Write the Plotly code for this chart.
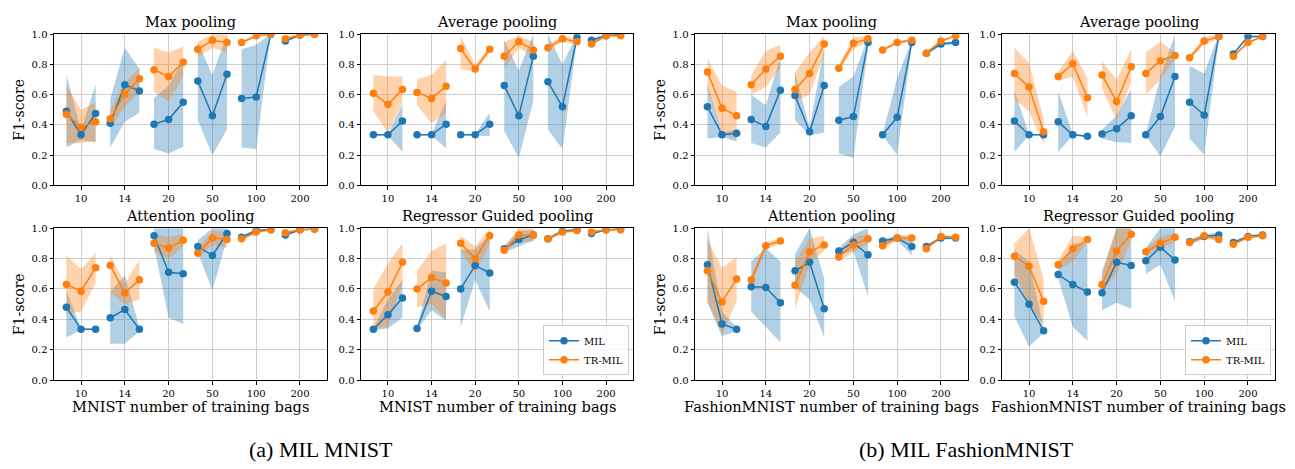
import plotly.graph_objects as go

# ---------------- data ----------------
BAGS = ["10", "14", "20", "50", "100", "200"]
Y_TICKS = [0.0, 0.2, 0.4, 0.6, 0.8, 1.0]
SERIES = ["MIL", "TR-MIL"]

# (a) MNIST - Max pooling
MNIST_MAX_MIL = [0.49, 0.335, 0.475, 0.41, 0.665, 0.625, 0.405, 0.435, 0.55, 0.69, 0.46, 0.735, 0.575, 0.585, 1.0, 0.955, 0.995, 1.0]
MNIST_MAX_MIL_LO = [0.25, 0.30, 0.285, 0.25, 0.42, 0.48, 0.24, 0.21, 0.255, 0.43, 0.20, 0.37, 0.25, 0.24, 1.0, 0.945, 0.99, 1.0]
MNIST_MAX_MIL_HI = [0.73, 0.37, 0.665, 0.57, 0.91, 0.77, 0.58, 0.66, 0.83, 0.95, 0.73, 1.0, 0.90, 0.93, 1.0, 0.965, 1.0, 1.0]
MNIST_MAX_TR = [0.47, 0.385, 0.42, 0.44, 0.605, 0.705, 0.765, 0.72, 0.815, 0.90, 0.96, 0.945, 0.945, 0.99, 1.0, 0.97, 0.995, 1.0]
MNIST_MAX_TR_LO = [0.28, 0.28, 0.29, 0.38, 0.52, 0.62, 0.62, 0.555, 0.72, 0.85, 0.91, 0.88, 0.935, 0.98, 1.0, 0.96, 0.99, 1.0]
MNIST_MAX_TR_HI = [0.66, 0.50, 0.55, 0.50, 0.68, 0.775, 0.91, 0.88, 0.92, 0.95, 1.0, 1.0, 0.955, 1.0, 1.0, 0.98, 1.0, 1.0]

# (a) MNIST - Average pooling
MNIST_AVG_MIL = [0.335, 0.335, 0.425, 0.335, 0.335, 0.405, 0.335, 0.335, 0.405, 0.66, 0.46, 0.855, 0.685, 0.52, 0.98, 0.96, 0.99, 1.0]
MNIST_AVG_MIL_LO = [0.33, 0.33, 0.22, 0.33, 0.33, 0.245, 0.33, 0.33, 0.325, 0.36, 0.18, 0.56, 0.37, 0.24, 0.96, 0.95, 0.985, 0.995]
MNIST_AVG_MIL_HI = [0.34, 0.34, 0.54, 0.34, 0.34, 0.56, 0.34, 0.34, 0.48, 0.96, 0.76, 1.0, 1.0, 0.80, 1.0, 0.97, 1.0, 1.0]
MNIST_AVG_TR = [0.61, 0.535, 0.635, 0.615, 0.575, 0.655, 0.905, 0.77, 0.90, 0.855, 0.95, 0.895, 0.91, 0.97, 0.95, 0.935, 0.99, 0.99]
MNIST_AVG_TR_LO = [0.49, 0.35, 0.55, 0.53, 0.41, 0.48, 0.77, 0.75, 0.88, 0.77, 0.91, 0.85, 0.89, 0.95, 0.93, 0.925, 0.985, 0.985]
MNIST_AVG_TR_HI = [0.73, 0.72, 0.72, 0.70, 0.73, 0.83, 0.99, 0.80, 0.92, 0.95, 0.99, 0.95, 0.93, 0.99, 0.97, 0.945, 1.0, 1.0]

# (a) MNIST - Attention pooling
MNIST_ATT_MIL = [0.48, 0.335, 0.335, 0.41, 0.465, 0.335, 0.95, 0.71, 0.70, 0.88, 0.82, 0.965, 0.94, 0.985, 0.99, 0.955, 0.99, 0.995]
MNIST_ATT_MIL_LO = [0.28, 0.33, 0.33, 0.24, 0.24, 0.32, 0.88, 0.41, 0.37, 0.84, 0.59, 0.93, 0.93, 0.975, 0.985, 0.945, 0.985, 0.99]
MNIST_ATT_MIL_HI = [0.59, 0.34, 0.34, 0.58, 0.69, 0.35, 1.0, 1.0, 1.0, 0.92, 1.0, 1.0, 0.95, 0.995, 0.995, 0.965, 0.995, 1.0]
MNIST_ATT_TR = [0.63, 0.585, 0.74, 0.755, 0.575, 0.66, 0.90, 0.87, 0.92, 0.835, 0.935, 0.925, 0.93, 0.975, 0.99, 0.97, 0.99, 0.995]
MNIST_ATT_TR_LO = [0.44, 0.45, 0.64, 0.58, 0.50, 0.53, 0.84, 0.80, 0.88, 0.80, 0.89, 0.87, 0.92, 0.965, 0.985, 0.96, 0.985, 0.99]
MNIST_ATT_TR_HI = [0.82, 0.73, 0.84, 0.82, 0.64, 0.79, 0.96, 0.94, 0.96, 0.87, 0.98, 0.98, 0.94, 0.985, 0.995, 0.98, 0.995, 1.0]

# (a) MNIST - Regressor Guided pooling
MNIST_RG_MIL = [0.335, 0.43, 0.54, 0.34, 0.585, 0.55, 0.60, 0.755, 0.705, 0.865, 0.925, 0.955, 0.93, 0.98, 0.99, 0.965, 0.99, 0.995]
MNIST_RG_MIL_LO = [0.33, 0.34, 0.41, 0.33, 0.46, 0.39, 0.35, 0.66, 0.45, 0.84, 0.88, 0.92, 0.92, 0.97, 0.985, 0.955, 0.985, 0.99]
MNIST_RG_MIL_HI = [0.34, 0.53, 0.66, 0.35, 0.72, 0.71, 0.86, 0.86, 0.96, 0.88, 0.98, 0.99, 0.94, 0.99, 0.995, 0.975, 0.995, 1.0]
MNIST_RG_TR = [0.455, 0.58, 0.775, 0.60, 0.675, 0.64, 0.90, 0.80, 0.95, 0.855, 0.955, 0.955, 0.93, 0.975, 0.985, 0.975, 0.99, 0.99]
MNIST_RG_TR_LO = [0.34, 0.35, 0.64, 0.48, 0.50, 0.40, 0.85, 0.70, 0.90, 0.84, 0.91, 0.91, 0.92, 0.965, 0.98, 0.965, 0.985, 0.985]
MNIST_RG_TR_HI = [0.60, 0.77, 0.90, 0.72, 0.85, 0.90, 0.95, 0.88, 1.0, 0.88, 1.0, 1.0, 0.94, 0.985, 0.99, 0.985, 0.995, 0.995]

# (b) FashionMNIST - Max pooling
FASH_MAX_MIL = [0.52, 0.335, 0.345, 0.435, 0.39, 0.63, 0.595, 0.355, 0.66, 0.43, 0.455, 0.945, 0.335, 0.45, 0.945, 0.875, 0.935, 0.945]
FASH_MAX_MIL_LO = [0.31, 0.32, 0.29, 0.28, 0.25, 0.35, 0.43, 0.33, 0.35, 0.21, 0.18, 0.91, 0.33, 0.20, 0.93, 0.86, 0.925, 0.935]
FASH_MAX_MIL_HI = [0.67, 0.35, 0.37, 0.60, 0.53, 0.85, 0.75, 0.38, 0.91, 0.65, 0.72, 0.98, 0.34, 0.71, 0.96, 0.89, 0.945, 0.955]
FASH_MAX_TR = [0.75, 0.51, 0.46, 0.665, 0.77, 0.855, 0.635, 0.74, 0.935, 0.775, 0.94, 0.97, 0.895, 0.945, 0.96, 0.875, 0.955, 0.99]
FASH_MAX_TR_LO = [0.64, 0.35, 0.30, 0.60, 0.65, 0.78, 0.56, 0.60, 0.87, 0.75, 0.90, 0.95, 0.885, 0.935, 0.95, 0.865, 0.945, 0.985]
FASH_MAX_TR_HI = [0.84, 0.66, 0.62, 0.73, 0.89, 0.93, 0.75, 0.88, 0.99, 0.80, 0.98, 0.99, 0.905, 0.955, 0.97, 0.885, 0.965, 0.995]

# (b) FashionMNIST - Average pooling
FASH_AVG_MIL = [0.425, 0.335, 0.335, 0.42, 0.335, 0.325, 0.34, 0.375, 0.46, 0.335, 0.455, 0.72, 0.55, 0.465, 0.985, 0.87, 0.985, 0.985]
FASH_AVG_MIL_LO = [0.22, 0.33, 0.33, 0.22, 0.33, 0.32, 0.31, 0.285, 0.28, 0.33, 0.19, 0.39, 0.31, 0.20, 0.97, 0.86, 0.98, 0.98]
FASH_AVG_MIL_HI = [0.63, 0.34, 0.34, 0.62, 0.34, 0.33, 0.37, 0.46, 0.64, 0.34, 0.72, 1.0, 0.79, 0.74, 1.0, 0.88, 0.99, 0.99]
FASH_AVG_TR = [0.74, 0.65, 0.355, 0.72, 0.805, 0.58, 0.73, 0.555, 0.785, 0.74, 0.825, 0.86, 0.845, 0.955, 0.985, 0.855, 0.945, 0.985]
FASH_AVG_TR_LO = [0.57, 0.49, 0.27, 0.69, 0.72, 0.45, 0.64, 0.43, 0.68, 0.60, 0.70, 0.84, 0.83, 0.93, 0.97, 0.845, 0.935, 0.98]
FASH_AVG_TR_HI = [0.91, 0.81, 0.44, 0.75, 0.89, 0.71, 0.82, 0.70, 0.90, 0.88, 0.95, 0.88, 0.86, 0.98, 1.0, 0.865, 0.955, 0.99]

# (b) FashionMNIST - Attention pooling
FASH_ATT_MIL = [0.76, 0.37, 0.335, 0.615, 0.61, 0.51, 0.72, 0.775, 0.47, 0.85, 0.905, 0.825, 0.915, 0.935, 0.88, 0.88, 0.935, 0.935]
FASH_ATT_MIL_LO = [0.51, 0.29, 0.32, 0.45, 0.35, 0.25, 0.61, 0.53, 0.28, 0.83, 0.85, 0.55, 0.90, 0.92, 0.82, 0.87, 0.925, 0.925]
FASH_ATT_MIL_HI = [1.0, 0.45, 0.35, 0.78, 0.87, 0.78, 0.83, 1.0, 0.67, 0.87, 0.96, 1.0, 0.93, 0.95, 0.94, 0.89, 0.945, 0.945]
FASH_ATT_TR = [0.72, 0.515, 0.665, 0.66, 0.885, 0.915, 0.625, 0.845, 0.89, 0.81, 0.89, 0.93, 0.885, 0.935, 0.935, 0.865, 0.945, 0.94]
FASH_ATT_TR_LO = [0.52, 0.30, 0.52, 0.63, 0.86, 0.90, 0.47, 0.77, 0.85, 0.78, 0.84, 0.90, 0.86, 0.92, 0.91, 0.855, 0.935, 0.93]
FASH_ATT_TR_HI = [0.92, 0.74, 0.81, 0.69, 0.91, 0.93, 0.78, 0.93, 0.95, 0.84, 0.94, 0.96, 0.91, 0.95, 0.96, 0.875, 0.955, 0.95]

# (b) FashionMNIST - Regressor Guided pooling
FASH_RG_MIL = [0.645, 0.50, 0.325, 0.695, 0.63, 0.58, 0.575, 0.775, 0.755, 0.785, 0.875, 0.79, 0.91, 0.945, 0.955, 0.905, 0.945, 0.955]
FASH_RG_MIL_LO = [0.42, 0.22, 0.31, 0.67, 0.35, 0.26, 0.46, 0.51, 0.47, 0.70, 0.76, 0.52, 0.895, 0.93, 0.94, 0.895, 0.935, 0.945]
FASH_RG_MIL_HI = [0.86, 0.78, 0.34, 0.72, 0.90, 0.90, 0.70, 1.0, 1.0, 0.87, 1.0, 1.0, 0.925, 0.96, 0.97, 0.915, 0.955, 0.965]
FASH_RG_TR = [0.815, 0.75, 0.52, 0.76, 0.865, 0.925, 0.63, 0.85, 0.96, 0.845, 0.90, 0.94, 0.905, 0.95, 0.925, 0.895, 0.94, 0.95]
FASH_RG_TR_LO = [0.70, 0.50, 0.37, 0.73, 0.78, 0.91, 0.59, 0.70, 0.92, 0.82, 0.87, 0.91, 0.89, 0.935, 0.91, 0.885, 0.93, 0.94]
FASH_RG_TR_HI = [0.90, 1.0, 0.67, 0.79, 0.95, 0.94, 0.72, 1.0, 1.0, 0.87, 0.94, 0.97, 0.92, 0.965, 0.94, 0.905, 0.95, 0.96]

PANELS = [
    # title, xlabel, show ylabel, legend, data
    ("Max pooling", None, True, None, MNIST_MAX_MIL, MNIST_MAX_MIL_LO, MNIST_MAX_MIL_HI, MNIST_MAX_TR, MNIST_MAX_TR_LO, MNIST_MAX_TR_HI),
    ("Average pooling", None, False, None, MNIST_AVG_MIL, MNIST_AVG_MIL_LO, MNIST_AVG_MIL_HI, MNIST_AVG_TR, MNIST_AVG_TR_LO, MNIST_AVG_TR_HI),
    ("Max pooling", None, True, None, FASH_MAX_MIL, FASH_MAX_MIL_LO, FASH_MAX_MIL_HI, FASH_MAX_TR, FASH_MAX_TR_LO, FASH_MAX_TR_HI),
    ("Average pooling", None, False, None, FASH_AVG_MIL, FASH_AVG_MIL_LO, FASH_AVG_MIL_HI, FASH_AVG_TR, FASH_AVG_TR_LO, FASH_AVG_TR_HI),
    ("Attention pooling", "MNIST number of training bags", True, None, MNIST_ATT_MIL, MNIST_ATT_MIL_LO, MNIST_ATT_MIL_HI, MNIST_ATT_TR, MNIST_ATT_TR_LO, MNIST_ATT_TR_HI),
    ("Regressor Guided pooling", "MNIST number of training bags", False, "legend", MNIST_RG_MIL, MNIST_RG_MIL_LO, MNIST_RG_MIL_HI, MNIST_RG_TR, MNIST_RG_TR_LO, MNIST_RG_TR_HI),
    ("Attention pooling", "FashionMNIST number of training bags", True, None, FASH_ATT_MIL, FASH_ATT_MIL_LO, FASH_ATT_MIL_HI, FASH_ATT_TR, FASH_ATT_TR_LO, FASH_ATT_TR_HI),
    ("Regressor Guided pooling", "FashionMNIST number of training bags", False, "legend2", FASH_RG_MIL, FASH_RG_MIL_LO, FASH_RG_MIL_HI, FASH_RG_TR, FASH_RG_TR_LO, FASH_RG_TR_HI),
]
CAPTIONS = ["(a) MIL MNIST", "(b) MIL FashionMNIST"]

# ---------------- layout / style ----------------
W, H = 1295, 469
COLS_PX = [(54, 327), (361, 633), (695, 968), (1002, 1275)]
ROWS_PX = [(29, 184), (228, 384)]
SPREAD = 1.0 / 3.0
LINE_COLORS = ["#1f77b4", "#ff7f0e"]
FILL_COLORS = ["rgba(31,119,180,0.35)", "rgba(255,127,14,0.35)"]
SERIF = "DejaVu Serif"
GRID = "#cfcfcf"


def px_x(v):
    return v / W


def px_y(v):
    return 1 - v / H


n_groups = len(BAGS)
xs = [g + k * SPREAD for g in range(n_groups) for k in (-1, 0, 1)]

fig = go.Figure()
annotations = []
layout = {}

for p, (title, xlabel, ylab, legend, mil, mil_lo, mil_hi, tr, tr_lo, tr_hi) in enumerate(PANELS):
    r, c = divmod(p, 4)
    ax = "" if p == 0 else str(p + 1)
    xref, yref = "x" + ax, "y" + ax
    x0, x1 = COLS_PX[c]
    y0, y1 = ROWS_PX[r]

    series = [(mil, mil_lo, mil_hi), (tr, tr_lo, tr_hi)]
    # bands
    for s, (m, lo, hi) in enumerate(series):
        bx, by = [], []
        for g in range(n_groups):
            idx = [3 * g, 3 * g + 1, 3 * g + 2]
            bx += [xs[i] for i in idx] + [xs[i] for i in reversed(idx)] + [None]
            by += [hi[i] for i in idx] + [lo[i] for i in reversed(idx)] + [None]
        fig.add_trace(go.Scatter(x=bx, y=by, xaxis=xref, yaxis=yref, mode="lines",
                                 fill="toself", fillcolor=FILL_COLORS[s], line=dict(width=0),
                                 hoverinfo="skip", showlegend=False))
    # lines
    for s, (m, lo, hi) in enumerate(series):
        lx, ly = [], []
        for g in range(n_groups):
            idx = [3 * g, 3 * g + 1, 3 * g + 2]
            lx += [xs[i] for i in idx] + [None]
            ly += [m[i] for i in idx] + [None]
        if legend:
            kw = dict(showlegend=True, legend=legend)
        else:
            kw = dict(showlegend=False)
        fig.add_trace(go.Scatter(x=lx, y=ly, xaxis=xref, yaxis=yref, mode="lines+markers",
                                 name=SERIES[s], line=dict(color=LINE_COLORS[s], width=1.5),
                                 marker=dict(color=LINE_COLORS[s], size=7.5),
                                 cliponaxis=True, **kw))

    common = dict(showline=True, mirror=True, linecolor="black", linewidth=1,
                  ticks="outside", ticklen=3.5, tickwidth=0.8, tickcolor="black",
                  showgrid=True, gridcolor=GRID, gridwidth=0.8, zeroline=False,
                  tickfont=dict(family=SERIF, size=10, color="black"))
    layout["xaxis" + ax] = dict(domain=[px_x(x0), px_x(x1)], anchor=yref,
                                range=[-0.617, n_groups - 1 + 0.617],
                                tickmode="array", tickvals=list(range(n_groups)), ticktext=BAGS,
                                **common)
    layout["yaxis" + ax] = dict(domain=[px_y(y1), px_y(y0)], anchor=xref, range=[0, 1],
                                tickmode="array", tickvals=Y_TICKS, tickformat=".1f",
                                **common)

    annotations.append(dict(text=title, xref="paper", yref="paper",
                            x=px_x((x0 + x1) / 2), y=px_y(y0), xanchor="center", yanchor="bottom",
                            yshift=2, showarrow=False, font=dict(family=SERIF, size=14.5, color="black")))
    if ylab:
        annotations.append(dict(text="F1-score", xref="paper", yref="paper",
                                x=px_x(x0 - 35), y=px_y((y0 + y1) / 2), xanchor="center", yanchor="middle",
                                textangle=-90, showarrow=False, font=dict(family=SERIF, size=14, color="black")))
    if xlabel:
        annotations.append(dict(text=xlabel, xref="paper", yref="paper",
                                x=px_x((x0 + x1) / 2), y=px_y(y1 + 27), xanchor="center", yanchor="middle",
                                showarrow=False, font=dict(family=SERIF, size=14.6, color="black")))

# captions
for cap, cx in zip(CAPTIONS, [321, 966]):
    annotations.append(dict(text=cap, xref="paper", yref="paper", x=px_x(cx), y=px_y(455),
                            xanchor="center", yanchor="middle", showarrow=False,
                            font=dict(family="Liberation Serif", size=22, color="black")))

legend_style = dict(font=dict(family=SERIF, size=10, color="black"), bgcolor="rgba(255,255,255,0.85)",
                    bordercolor="#cccccc", borderwidth=1, xanchor="right", yanchor="bottom",
                    itemwidth=30, tracegroupgap=0)

fig.update_layout(
    width=W, height=H, margin=dict(l=0, r=0, t=0, b=0),
    paper_bgcolor="white", plot_bgcolor="white",
    annotations=annotations,
    legend=dict(x=px_x(629), y=px_y(379), **legend_style),
    legend2=dict(x=px_x(1271), y=px_y(379), **legend_style),
    **layout,
)

fig.write_html("out.html")
